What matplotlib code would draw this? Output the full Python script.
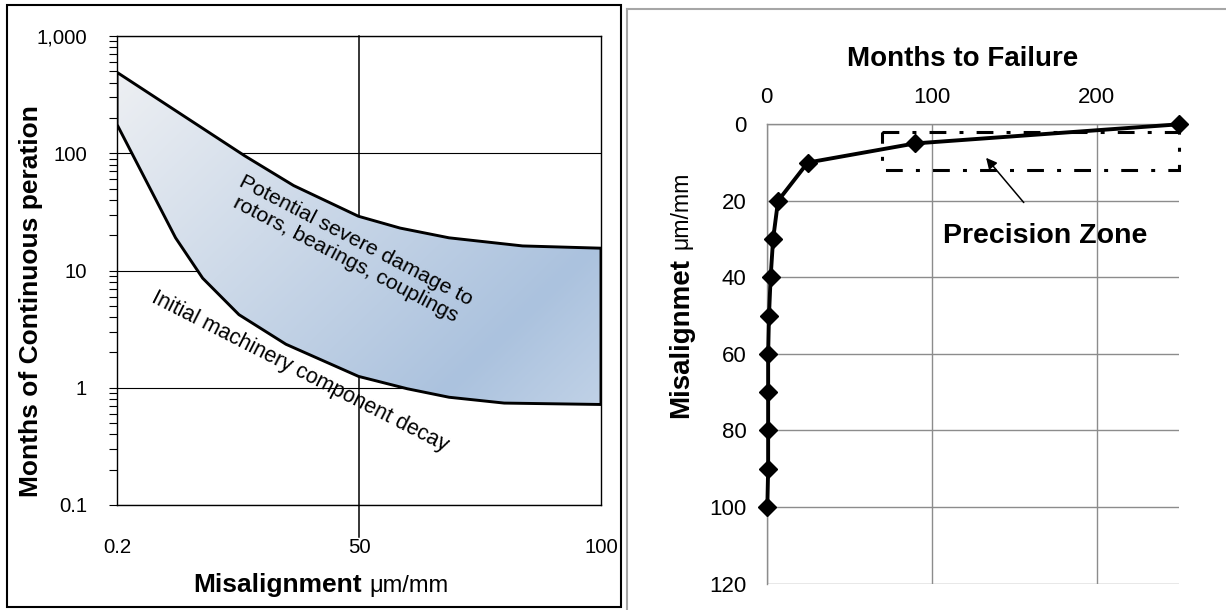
import numpy as np
import matplotlib
matplotlib.use("Agg")
import matplotlib.pyplot as plt
from matplotlib.patches import Polygon, Rectangle
from matplotlib.colors import LinearSegmentedColormap
from matplotlib.lines import Line2D

plt.rcParams['font.family'] = ['Liberation Sans', 'DejaVu Sans']

# left chart: band between two curves (x is position on the 0.2 / 50 / 100 axis)
upper_x = [0, 26.4, 36.5, 49.9, 58.5, 68.6, 83.8, 100]
upper_y = [490, 95, 53, 29, 23, 19, 16.2, 15.5]
lower_x = [0, 12.1, 17.7, 25.2, 34.9, 49.9, 60.0, 68.6, 80.0, 100]
lower_y = [176, 19, 8.6, 4.2, 2.35, 1.25, 0.98, 0.83, 0.74, 0.72]
left_xticks = [0, 50, 100]
left_xlabels = ["0.2", "50", "100"]
left_yticks = [0.1, 1, 10, 100, 1000]
left_ylabels = ["0.1", "1", "10", "100", "1,000"]

# right chart
months = [250, 90, 25, 7, 4, 2.5, 1.5, 1, 1, 1, 1, 0.5]
misalign = [0, 5, 10, 20, 30, 40, 50, 60, 70, 80, 90, 100]
zone_x = [70, 250]
zone_y = [2, 12]

W, H = 1226, 610
fig = plt.figure(figsize=(W / 100, H / 100), dpi=100)
fig.patch.set_facecolor("white")

def fx(px):
    return px / W

def fy(py):
    return 1 - py / H

# ---------------- left panel ----------------
ax = fig.add_axes([fx(117), fy(505), fx(601 - 117), (505 - 36) / H])
ax.set_yscale("log")
ax.set_xlim(0, 100)
ax.set_ylim(0.1, 1000)
ax.set_axisbelow(True)

verts = np.column_stack([upper_x + lower_x[::-1], upper_y + lower_y[::-1]])
band = Polygon(verts, closed=True, facecolor="none", edgecolor="black",
               lw=2.1, zorder=2, transform=ax.transData)
ax.add_patch(band)

u, v = np.meshgrid(np.linspace(0, 1, 300), np.linspace(0, 1, 300))
t = (u + (1 - v)) / 2
cmap = LinearSegmentedColormap.from_list(
    "band", [(0, "#f1f2f4"), (0.72, "#abc2de"), (1.0, "#cddbec")])
im = ax.imshow(t, cmap=cmap, vmin=0, vmax=1, extent=(0, 1, 0, 1), origin="lower",
               transform=ax.transAxes, aspect="auto", zorder=1, interpolation="bilinear")
im.set_clip_path(band)
ax.set_xlim(0, 100)
ax.set_ylim(0.1, 1000)

ax.grid(axis="y", which="major", color="black", lw=0.8)
ax.axvline(50, ymin=-32 / 469, ymax=1, color="black", lw=1.1, clip_on=False, zorder=0.6)

ax.set_xticks(left_xticks)
ax.set_xticklabels(left_xlabels)
ax.set_yticks(left_yticks)
ax.set_yticklabels(left_ylabels)
ax.tick_params(axis="x", length=0, pad=24, labelsize=14.7)
ax.tick_params(axis="y", which="both", direction="out", length=5.5, width=0.8,
               pad=16, labelsize=14.7)
ax.tick_params(axis="y", which="minor", labelleft=False)
for s in ax.spines.values():
    s.set_color("black")
    s.set_linewidth(1.0)

ax.text(48.3, 15, "Potential severe damage to\nrotors, bearings, couplings",
        rotation=-27.5, rotation_mode="anchor", ha="center", va="center",
        multialignment="center", fontsize=15.4, linespacing=1.15, zorder=3)
ax.text(37.8, 1.36, "Initial machinery component decay",
        rotation=-27, rotation_mode="anchor", ha="center", va="center",
        fontsize=15.5, zorder=3)

fig.text(fx(31), fy(301), "Months of Continuous peration", rotation=90,
         ha="center", va="center", fontsize=19, fontweight="bold")
fig.text(fx(362), fy(592), "Misalignment", ha="right", va="baseline",
         fontsize=19, fontweight="bold")
fig.text(fx(369), fy(592), "\u03bcm/mm", ha="left", va="baseline", fontsize=17)

fig.add_artist(Rectangle((fx(7), fy(607)), fx(621 - 7), (607 - 5) / H,
                         transform=fig.transFigure, fill=False,
                         edgecolor="black", lw=1.5))

# ---------------- right panel ----------------
ax2 = fig.add_axes([fx(766.5), fy(583.5), fx(1179 - 766.5), (583.5 - 124.3) / H])
ax2.set_xlim(0, 250)
ax2.set_ylim(120, 0)
ax2.xaxis.tick_top()
ax2.set_xticks([0, 100, 200])
ax2.set_yticks(range(0, 121, 20))
ax2.grid(True, color="#8c8c8c", lw=1.0)
ax2.set_axisbelow(True)
ax2.tick_params(axis="both", length=0, labelsize=16)
ax2.tick_params(axis="x", pad=12)
ax2.tick_params(axis="y", pad=14.5)
for side in ["right", "bottom"]:
    ax2.spines[side].set_visible(False)
for side in ["left", "top"]:
    ax2.spines[side].set_color("#8c8c8c")
    ax2.spines[side].set_linewidth(1.0)

ax2.add_patch(Rectangle((zone_x[0], zone_y[0]), zone_x[1] - zone_x[0],
                        zone_y[1] - zone_y[0], fill=False, edgecolor="black",
                        lw=2.2, linestyle=(0, (5.5, 4.3, 1.3, 4.3)), zorder=2,
                        clip_on=False))
ax2.plot(months, misalign, color="black", lw=2.8, marker="D", markersize=9.5,
         zorder=3, clip_on=False)
ax2.annotate("", xy=(132, 8.2), xytext=(157, 21),
             arrowprops=dict(arrowstyle="-|>", color="black", lw=1.1,
                             mutation_scale=16))
ax2.text(168.8, 31.1, "Precision Zone", ha="center", va="baseline",
         fontsize=20.5, fontweight="bold")

fig.text(fx(963), fy(66), "Months to Failure", ha="center", va="baseline",
         fontsize=20, fontweight="bold")
fig.text(fx(681), fy(418), "Misalignmet", rotation=90, ha="center",
         va="bottom", fontsize=20, fontweight="bold")
fig.text(fx(681), fy(249), "\u03bcm/mm", rotation=90, ha="center",
         va="bottom", fontsize=16.7)

fig.add_artist(Line2D([fx(627), 1], [fy(9), fy(9)], transform=fig.transFigure,
                      color="#a6a6a6", lw=1.5))
fig.add_artist(Line2D([fx(627), fx(627)], [fy(9), 0], transform=fig.transFigure,
                      color="#a6a6a6", lw=1.5))

fig.savefig("out.png", dpi=100)
